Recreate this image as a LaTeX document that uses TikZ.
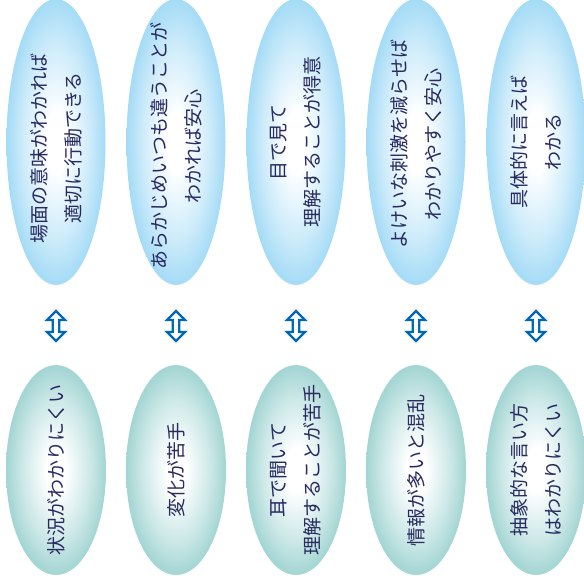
\documentclass[tikz,border=0pt]{standalone}
\usepackage{fontspec}
\newfontfamily\jp{Noto Sans CJK JP}
\usetikzlibrary{shapes.geometric}
\definecolor{topblue}{RGB}{164,219,246}
\definecolor{botteal}{RGB}{162,213,211}
\definecolor{txtnavy}{RGB}{40,42,96}
\definecolor{arrblue}{RGB}{0,104,180}
\pgfdeclareradialshading{topshade}{\pgfpoint{0bp}{0bp}}{color(0bp)=(white);color(5bp)=(white);color(17bp)=(topblue!55);color(25bp)=(topblue);color(50bp)=(topblue)}
\pgfdeclareradialshading{botshade}{\pgfpoint{0bp}{0bp}}{color(0bp)=(white);color(5bp)=(white);color(17bp)=(botteal!55);color(25bp)=(botteal);color(50bp)=(botteal)}
\begin{document}
\begin{tikzpicture}[x=1pt,y=-1pt,
  topell/.style={ellipse, minimum width=99pt, minimum height=286pt, inner sep=0pt, shade, shading=topshade},
  botell/.style={ellipse, minimum width=100pt, minimum height=210pt, inner sep=0pt, shade, shading=botshade},
  lbl/.style={rotate=90, align=center, text=txtnavy, font=\jp\fontsize{19}{34}\selectfont, inner sep=0pt},
  dblarrow/.style={draw=arrblue, fill=white, line width=2.2pt, line join=miter}]
\useasboundingbox (0,0) rectangle (584,581);
% top ellipses
\node[topell] (t1) at (56,142) {};
\node[topell] (t2) at (176,142) {};
\node[topell] (t3) at (296,142) {};
\node[topell] (t4) at (416,142) {};
\node[topell] (t5) at (536,142) {};
% bottom ellipses
\node[botell] (b1) at (56,470) {};
\node[botell] (b2) at (176,470) {};
\node[botell] (b3) at (296,470) {};
\node[botell] (b4) at (416,470) {};
\node[botell] (b5) at (536,470) {};
% top labels
\node[lbl] (tl1) at ([yshift=-6pt]t1.center) {場面の意味がわかれば\\適切に行動できる};
\node[lbl] (tl2) at ([yshift=-4pt]t2.center) {あらかじめいつも違うことが\\わかれば安心};
\node[lbl] (tl3) at (t3.center) {目で見て\\理解することが得意};
\node[lbl] (tl4) at ([yshift=-2pt]t4.center) {よけいな刺激を減らせば\\わかりやすく安心};
\node[lbl] (tl5) at (t5.center) {具体的に言えば\\わかる};
% bottom labels
\node[lbl] (bl1) at (b1.center) {状況がわかりにくい};
\node[lbl] (bl2) at (b2.center) {変化が苦手};
\node[lbl] (bl3) at (b3.center) {耳で聞いて\\理解することが苦手};
\node[lbl] (bl4) at (b4.center) {情報が多いと混乱};
\node[lbl] (bl5) at (b5.center) {抽象的な言い方\\はわかりにくい};
% double arrows
\foreach \i/\xx in {1/56,2/176,3/296,4/416,5/536}{
  \coordinate (ar\i) at (\xx,326);
  \draw[dblarrow, shift={(ar\i)}] (0,-15) -- (9,-6) -- (3.3,-6) -- (3.3,6) -- (9,6) -- (0,15) -- (-9,6) -- (-3.3,6) -- (-3.3,-6) -- (-9,-6) -- cycle;
}
\end{tikzpicture}
\end{document}
